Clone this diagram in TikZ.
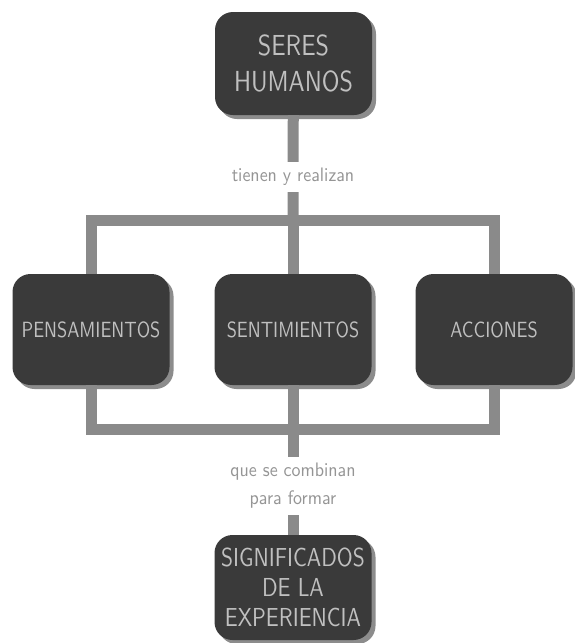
\documentclass[tikz,border=0pt]{standalone}
\usepackage{fontspec}
\usepackage{tikz}
\usetikzlibrary{shadows}
\newfontfamily\mapfont{lmsans10-regular.otf}[FakeStretch=0.83]
\newfontfamily\wordfont{lmsans10-regular.otf}[FakeStretch=0.92]
\definecolor{boxgray}{HTML}{3A3A3A}
\definecolor{shadegray}{HTML}{8C8C8C}
\definecolor{linegray}{HTML}{8A8A8A}
\definecolor{capgray}{HTML}{C0C0C0}
\definecolor{wordgray}{HTML}{959595}
\tikzset{
  concept/.style={fill=boxgray, rounded corners=18pt, minimum width=157pt,
    text=capgray, align=center, font=\mapfont\fontsize{22}{30}\selectfont,
    drop shadow={shadow xshift=4pt, shadow yshift=-4pt, fill=shadegray, opacity=1}},
  linkword/.style={fill=white, text=wordgray, align=center, inner xsep=2pt,
    font=\wordfont\fontsize{19.5}{28}\selectfont},
  link/.style={draw=linegray, line width=11pt, line join=miter}
}
\begin{document}
\begin{tikzpicture}[x=1pt, y=-1pt]
\useasboundingbox (0,0) rectangle (575,643);
\node[concept, minimum height=103pt, font=\mapfont\fontsize{29}{36}\selectfont] (seres) at (293.5,63.5) {SERES\\HUMANOS};
\node[concept, minimum height=111pt] (pens) at (91,329.5) {PENSAMIENTOS};
\node[concept, minimum height=111pt] (sent) at (293,329.5) {SENTIMIENTOS};
\node[concept, minimum height=111pt] (acc) at (494,329.5) {ACCIONES};
\node[concept, minimum height=105pt, font=\mapfont\fontsize{26}{30}\selectfont] (signif) at (293,587.5) {SIGNIFICADOS\\DE LA\\EXPERIENCIA};
\node[linkword, minimum height=30pt] (tienen) at (293,177) {tienen y realizan};
\node[linkword, minimum height=58pt] (combinan) at (293,486) {que se combinan\\para formar};
\coordinate (upper) at (293,220.5);
\coordinate (lower) at (293,429.5);
\draw[link] (seres) -- (tienen) -- (upper);
\draw[link] (pens.north) |- (upper) -| (acc.north);
\draw[link] (upper) -- (sent.north);
\draw[link] (pens.south) |- (lower) -| (acc.south);
\draw[link] (sent.south) -- (lower) -- (combinan) -- (signif);
\end{tikzpicture}
\end{document}
